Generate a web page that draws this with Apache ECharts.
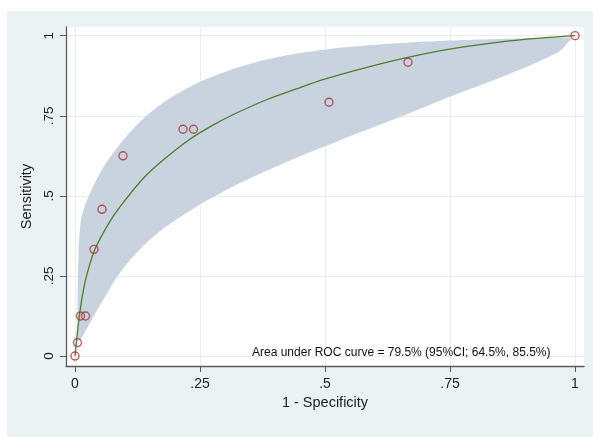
<!DOCTYPE html>
<html><head><meta charset="utf-8">
<script src="https://cdn.jsdelivr.net/npm/echarts@6/dist/echarts.min.js"></script>
<style>html,body{margin:0;padding:0;background:#fff}#c{width:593px;height:437px}</style>
</head><body><div id="c"></div>
<script>
// Tick values / labels
const tickValues = [0, 0.25, 0.5, 0.75, 1];
const tickLabels = ['0', '.25', '.5', '.75', '1'];

// Observed ROC points (1 - specificity, sensitivity)
const obsFPR = [0, 0.005, 0.011, 0.021, 0.038, 0.054, 0.096, 0.216, 0.237, 0.508, 0.666, 1];
const obsTPR = [0, 0.042, 0.125, 0.125, 0.333, 0.458, 0.625, 0.708, 0.708, 0.792, 0.917, 1];

// Fitted ROC curve
const fitFPR = [0, 0.003, 0.006, 0.009, 0.015, 0.023, 0.039, 0.055, 0.075, 0.103, 0.135, 0.175, 0.229, 0.275, 0.321, 0.383, 0.443, 0.499, 0.576, 0.659, 0.749, 0.849, 0.929, 1];
const fitTPR = [0, 0.045, 0.09, 0.128, 0.19, 0.25, 0.33, 0.38, 0.433, 0.492, 0.552, 0.61, 0.676, 0.72, 0.757, 0.8, 0.834, 0.864, 0.898, 0.93, 0.958, 0.98, 0.992, 1];

// Confidence band, upper edge (left to right, incl. both tips)
const bandUpperFPR = [0.006, 0.005, 0.005, 0.006, 0.007, 0.009, 0.012, 0.017, 0.025, 0.035, 0.047, 0.065, 0.083, 0.111, 0.143, 0.185, 0.25, 0.315, 0.369, 0.443, 0.535, 0.669, 0.809, 0.929, 0.985, 0.992];
const bandUpperTPR = [0.045, 0.09, 0.16, 0.25, 0.32, 0.38, 0.425, 0.455, 0.49, 0.525, 0.562, 0.61, 0.648, 0.7, 0.75, 0.8, 0.856, 0.895, 0.92, 0.944, 0.963, 0.979, 0.988, 0.993, 0.994, 0.99];
// Confidence band, lower edge (left to right, without tips)
const bandLowerFPR = [0.01, 0.027, 0.043, 0.06, 0.079, 0.1, 0.116, 0.149, 0.183, 0.249, 0.316, 0.383, 0.449, 0.499, 0.583, 0.669, 0.749, 0.849, 0.929, 0.969, 0.985];
const bandLowerTPR = [0.05, 0.095, 0.14, 0.185, 0.235, 0.28, 0.31, 0.362, 0.405, 0.472, 0.529, 0.578, 0.623, 0.654, 0.706, 0.758, 0.809, 0.868, 0.92, 0.951, 0.977];

const annotation = 'Area under ROC curve = 79.5% (95%CI; 64.5%, 85.5%)';
const FONT = '"Liberation Sans", Arial, sans-serif';

const labelFmt = v => {
  const i = tickValues.findIndex(t => Math.abs(t - v) < 1e-9);
  return i >= 0 ? tickLabels[i] : '';
};

const chart = echarts.init(document.getElementById('c'), null, {renderer: 'canvas'});
chart.setOption({
  animation: false,
  backgroundColor: '#ffffff',
  textStyle: {fontFamily: FONT},
  graphic: [
    {type: 'rect', z: -100, silent: true, shape: {x: 7, y: 11, width: 586, height: 426}, style: {fill: '#eaf2f3'}},
    {type: 'text', z: 100, left: 252, top: 347, style: {text: annotation, font: '12px ' + FONT, fill: '#111'}}
  ],
  grid: {left: 66, top: 27, width: 518, height: 339, show: true, backgroundColor: '#ffffff', borderWidth: 0, containLabel: false},
  xAxis: {
    type: 'value', min: -0.018, max: 1.018,
    axisLine: {show: true, onZero: false, lineStyle: {color: '#5a5a5a', width: 1.3}},
    axisTick: {show: true, length: 6, customValues: tickValues, lineStyle: {color: '#5a5a5a', width: 1}},
    axisLabel: {customValues: tickValues, formatter: labelFmt, fontSize: 14, color: '#222', margin: 11, fontFamily: FONT},
    splitLine: {show: true, lineStyle: {color: '#e6eef1', width: 1}},
    name: '1 - Specificity', nameLocation: 'middle', nameGap: 25,
    nameTextStyle: {fontSize: 14.5, color: '#222', fontFamily: FONT}
  },
  yAxis: {
    type: 'value', min: -0.031, max: 1.027,
    axisLine: {show: true, onZero: false, lineStyle: {color: '#5a5a5a', width: 1.3}},
    axisTick: {show: true, length: 6, customValues: tickValues, lineStyle: {color: '#5a5a5a', width: 1}},
    axisLabel: {customValues: tickValues, formatter: labelFmt, fontSize: 13.5, color: '#222', margin: 10, rotate: 90, fontFamily: FONT},
    splitLine: {show: true, lineStyle: {color: '#e6eef1', width: 1}},
    name: 'Sensitivity', nameLocation: 'middle', nameGap: 26,
    nameTextStyle: {fontSize: 14.5, color: '#222', fontFamily: FONT}
  },
  series: [
    {
      type: 'custom', name: 'band', silent: true, z: 1,
      data: [[0, 0]],
      renderItem: (params, api) => {
        const pts = [];
        for (let i = 0; i < bandUpperFPR.length; i++) pts.push(api.coord([bandUpperFPR[i], bandUpperTPR[i]]));
        for (let i = bandLowerFPR.length - 1; i >= 0; i--) pts.push(api.coord([bandLowerFPR[i], bandLowerTPR[i]]));
        return {type: 'polygon', shape: {points: pts, smooth: 0.25}, style: {fill: '#c8d3df', stroke: null}};
      }
    },
    {
      type: 'line', name: 'fit', z: 2, showSymbol: false, smooth: 0.3,
      data: fitFPR.map((x, i) => [x, fitTPR[i]]),
      lineStyle: {color: '#4c7c2c', width: 1.3}
    },
    {
      type: 'scatter', name: 'obs', z: 3, symbol: 'circle', symbolSize: 8,
      data: obsFPR.map((x, i) => [x, obsTPR[i]]),
      itemStyle: {color: 'rgba(0,0,0,0)', borderColor: '#a5343f', borderWidth: 1.4}
    }
  ]
});
</script></body></html>
